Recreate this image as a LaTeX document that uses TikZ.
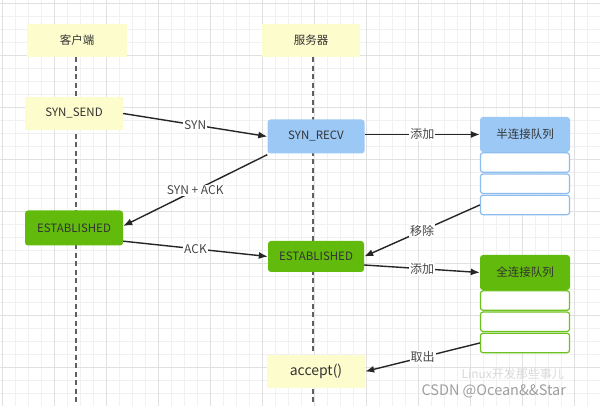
\documentclass[tikz,border=0pt]{standalone}
\usepackage{fontspec}
\setmainfont{Noto Sans CJK SC}
\usepackage{tikz}
\usetikzlibrary{positioning, arrows.meta}
\definecolor{boxyellow}{HTML}{FDFCCD}
\definecolor{boxblue}{HTML}{9CC8F6}
\definecolor{boxgreen}{HTML}{62BA0C}
\definecolor{cellblue}{HTML}{8DBCEE}
\definecolor{cellgreen}{HTML}{6CC21C}
\definecolor{txt}{HTML}{333333}
\tikzset{
  minorgrid/.style={color=gray!11, line width=0.6pt},
  majorgrid/.style={color=gray!24, line width=0.7pt},
  lifeline/.style={color=gray!75!black, line width=1.4pt, dash pattern=on 5pt off 3.5pt},
  state/.style={minimum width=98pt, minimum height=33pt, inner sep=0pt, text=txt, font=\fontsize{11.5}{13}\selectfont},
  yellowbox/.style={state, fill=boxyellow},
  bluebox/.style={state, fill=boxblue, rounded corners=3pt},
  greenbox/.style={state, fill=boxgreen, rounded corners=3pt},
  qhead/.style={state, minimum width=90pt, minimum height=35pt},
  qcell/.style={minimum width=89pt, minimum height=19.5pt, inner sep=0pt, fill=white, rounded corners=2.5pt, line width=1.2pt},
  msg/.style={-{Latex[length=9pt, width=7pt]}, line width=1.4pt, color=black!85},
  lbl/.style={fill=white, inner sep=1pt, text=txt!90, font=\fontsize{12}{14}\selectfont}
}
\begin{document}
\begin{tikzpicture}[x=1pt, y=-1pt]
\useasboundingbox (0,0) rectangle (600,406);
\fill[white] (0,0) rectangle (600,406);
% background grid
\foreach \gx in {2,15,...,600} \draw[minorgrid] (\gx,0) -- (\gx,406);
\foreach \gy in {3,16,...,406} \draw[minorgrid] (0,\gy) -- (600,\gy);
\foreach \gx in {2,54,...,600} \draw[majorgrid] (\gx,0) -- (\gx,406);
\foreach \gy in {3,55,...,406} \draw[majorgrid] (0,\gy) -- (600,\gy);
% heads and lifelines
\node[yellowbox, minimum width=100pt] (client) at (77,40.5) {客户端};
\node[yellowbox] (server) at (311,40.5) {服务器};
\coordinate (bottom) at (0,406);
\draw[lifeline] ([xshift=-1pt]client.south) -- ([xshift=-1pt]client.south |- bottom);
\draw[lifeline] ([xshift=2pt]server.south) -- ([xshift=2pt]server.south |- bottom);
% client states
\node[yellowbox] (synsend) at (74,113.5) {SYN\_SEND};
\node[greenbox, minimum height=35pt] (cest) at (74,228) {ESTABLISHED};
% server states
\node[bluebox, minimum width=97pt, minimum height=34pt] (synrecv) at (316,136.5) {SYN\_RECV};
\node[greenbox, minimum width=96pt, minimum height=31pt] (sest) at (316,256.5) {ESTABLISHED};
\node[yellowbox, font=\fontsize{14}{16}\selectfont] (accept) at (316,371.5) {accept()};
% half connection queue
\node[qhead, fill=boxblue, rounded corners=3pt] (halfq) at (525,134.5) {半连接队列};
\node[qcell, draw=cellblue, below=0pt of halfq] (halfa) {};
\node[qcell, draw=cellblue, below=0.5pt of halfa] (halfb) {};
\node[qcell, draw=cellblue, below=0.5pt of halfb] (halfc) {};
% full connection queue
\node[qhead, fill=boxgreen, rounded corners=3pt] (fullq) at (525,272.5) {全连接队列};
\node[qcell, draw=cellgreen, below=0pt of fullq] (fulla) {};
\node[qcell, draw=cellgreen, below=0.5pt of fulla] (fullb) {};
\node[qcell, draw=cellgreen, below=0.5pt of fullb] (fullc) {};
% messages
\draw[msg] (synsend.east) -- node[lbl] {SYN} (synrecv.west);
\draw[msg] ([yshift=-1pt]synrecv.south west) -- node[lbl] {SYN + ACK} ([yshift=2pt]cest.east);
\draw[msg] (cest.-15) -- node[lbl] {ACK} (sest.west);
\draw[msg] (synrecv.east |- halfq.west) -- node[lbl] {添加} (halfq.west);
\draw[msg] (halfc.west) -- node[lbl] {移除} (sest.east);
\draw[msg] (sest.-10) -- node[lbl] {添加} (fullq.west);
\draw[msg] (fullc.west) -- node[lbl] {取出} (accept.east);
% watermark
\node[text=gray!30, font=\fontsize{12}{14}\selectfont, anchor=west] (wmark) at (458,374) {Linux开发那些事儿};
\node[text=gray!75, font=\fontsize{14.5}{17}\selectfont, anchor=west] (csdn) at (418,391) {CSDN @Ocean\&\&Star};
\end{tikzpicture}
\end{document}
